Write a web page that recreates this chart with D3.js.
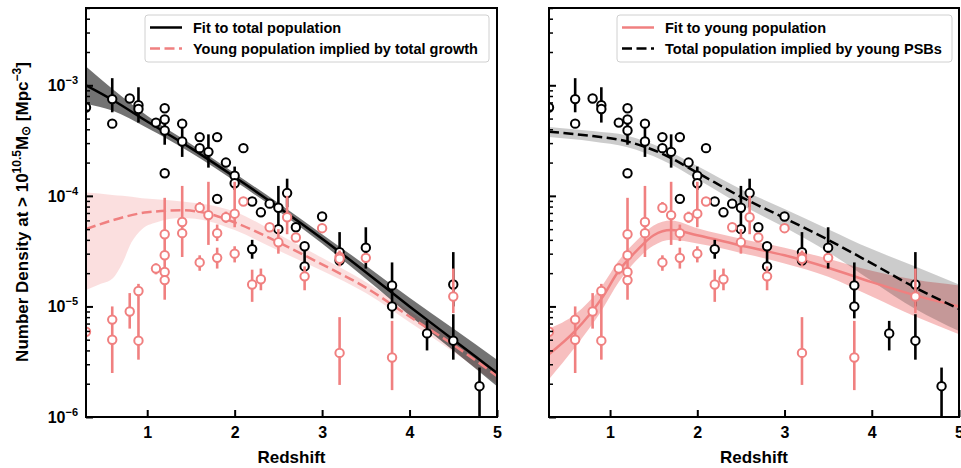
<!DOCTYPE html>
<html>
<head>
<meta charset="utf-8">
<script src="https://cdn.jsdelivr.net/npm/d3@7"></script>
<style>
body { margin: 0; background: #fff; }
text { font-family: "Liberation Sans", Arial, sans-serif; font-weight: bold; fill: #000; }
</style>
</head>
<body>
<svg id="chart"></svg>
<script>
// total population (black points)
const totZ  = [0.3, 0.6, 0.6, 0.8, 0.9, 0.9, 1.1, 1.2, 1.2, 1.2, 1.2, 1.4, 1.4, 1.6, 1.6, 1.7, 1.8, 1.8, 1.9, 2.0, 2.0, 2.1, 2.2, 2.2, 2.3, 2.4, 2.5, 2.5, 2.6, 2.7, 2.8, 2.8, 3.0, 3.2, 3.2, 3.5, 3.8, 3.8, 4.2, 4.5, 4.5, 4.8];
const totN  = [6.3e-4, 7.5e-4, 4.5e-4, 7.6e-4, 6.6e-4, 6.1e-4, 4.6e-4, 6.2e-4, 4.9e-4, 3.9e-4, 1.6e-4, 4.5e-4, 3.1e-4, 3.4e-4, 2.7e-4, 2.5e-4, 3.4e-4, 9.4e-5, 2.0e-4, 1.52e-4, 1.3e-4, 2.7e-4, 8.9e-5, 3.3e-5, 7.1e-5, 8.5e-5, 7.8e-5, 5.0e-5, 1.06e-4, 5.2e-5, 3.5e-5, 2.3e-5, 6.5e-5, 3.1e-5, 2.6e-5, 3.4e-5, 1.55e-5, 1.0e-5, 5.7e-6, 1.58e-5, 4.9e-6, 1.9e-6];
const totLo = [null, 5.7e-4, null, null, 4.6e-4, null, null, null, null, 2.9e-4, null, null, 2.25e-4, null, null, 1.8e-4, null, null, null, 1.13e-4, null, null, null, 2.7e-5, null, null, 5.0e-5, null, 7.9e-5, null, 2.3e-5, null, null, 2.6e-5, null, 2.2e-5, 1.0e-5, 7.8e-6, 4.0e-6, 1.0e-5, 3.3e-6, 8e-7];
const totHi = [null, 1.16e-3, null, null, 9.6e-4, null, null, null, null, 4.9e-4, null, null, 4.5e-4, null, null, 3.6e-4, null, null, null, 1.84e-4, null, null, null, 4.0e-5, null, null, 1.23e-4, null, 1.43e-4, null, 3.5e-5, null, null, 4.7e-5, null, 5.2e-5, 2.5e-5, 1.0e-5, 7.4e-6, 3.1e-5, 8.5e-6, 2.8e-6];

// young population (red points)
const yngZ  = [0.3, 0.6, 0.6, 0.8, 0.9, 0.9, 1.1, 1.2, 1.2, 1.2, 1.2, 1.4, 1.4, 1.6, 1.6, 1.7, 1.8, 1.8, 1.9, 2.0, 2.0, 2.1, 2.2, 2.3, 2.4, 2.5, 2.6, 2.7, 2.8, 3.0, 3.2, 3.2, 3.2, 3.5, 3.8, 4.5];
const yngN  = [5.9e-6, 7.6e-6, 5.0e-6, 9.0e-6, 1.38e-5, 4.9e-6, 2.2e-5, 4.5e-5, 2.9e-5, 2.05e-5, 1.73e-5, 5.8e-5, 4.6e-5, 7.8e-5, 2.5e-5, 6.7e-5, 4.6e-5, 2.75e-5, 6.4e-5, 6.9e-5, 3.0e-5, 8.9e-5, 1.58e-5, 1.76e-5, 5.2e-5, 3.8e-5, 6.4e-5, 4.2e-5, 1.87e-5, 5.1e-5, 2.8e-5, 2.7e-5, 3.8e-6, 2.75e-5, 3.45e-6, 1.23e-5];
const yngLo = [null, null, 2.5e-6, 6.3e-6, null, 3.3e-6, 1.95e-5, 1.15e-5, null, null, null, 2.8e-5, null, 7.0e-5, 2.1e-5, 3.6e-5, 3.9e-5, 2.2e-5, 5.7e-5, 5.2e-5, 2.5e-5, null, 1.1e-5, 1.4e-5, null, 3.0e-5, 4.5e-5, null, 1.4e-5, null, 2.3e-5, null, 1.95e-6, null, 1.75e-6, 8.7e-6];
const yngHi = [null, null, 1.0e-5, 1.32e-5, null, 1.6e-5, 2.45e-5, 9.6e-5, null, null, null, 1.23e-4, null, 8.8e-5, 2.9e-5, 1.34e-4, 5.5e-5, 3.4e-5, 7.2e-5, 1.34e-4, 3.5e-5, null, 2.15e-5, 2.2e-5, null, 5.0e-5, 1.0e-4, null, 2.3e-5, null, 3.2e-5, null, 8.0e-6, null, 7.4e-6, 2.2e-5];

// left panel: fit to total population and its band
const fitTotZ  = [0.3, 0.6, 1.0, 1.5, 2.0, 2.5, 3.0, 3.5, 4.0, 4.5, 5.0];
const fitTotN  = [1.0e-3, 7.4e-4, 4.7e-4, 2.7e-4, 1.48e-4, 7.9e-5, 4.1e-5, 2.04e-5, 1.0e-5, 5.0e-6, 2.5e-6];
const fitTotHi = [1.48e-3, 9.3e-4, 5.3e-4, 2.95e-4, 1.6e-4, 8.6e-5, 4.5e-5, 2.35e-5, 1.2e-5, 6.3e-6, 3.3e-6];
const fitTotLo = [6.8e-4, 5.9e-4, 4.1e-4, 2.45e-4, 1.36e-4, 7.3e-5, 3.7e-5, 1.78e-5, 8.3e-6, 4.0e-6, 1.9e-6];

// left panel: young population implied by total growth
const impYngZ = [0.3, 0.6, 1.0, 1.4, 1.7, 2.0, 2.5, 3.0, 3.5, 4.0, 4.5, 5.0];
const impYngN = [5.0e-5, 6.0e-5, 7.1e-5, 7.4e-5, 6.9e-5, 5.75e-5, 3.8e-5, 2.4e-5, 1.48e-5, 8.1e-6, 4.5e-6, 2.35e-6];
const impYngBandZ  = [0.3, 0.45, 0.6, 0.72, 0.82, 0.94, 1.1, 1.4, 1.7, 2.0, 2.5, 3.0, 3.5, 4.0, 4.5, 5.0];
const impYngBandHi = [1.07e-4, 1.05e-4, 1.02e-4, 1.0e-4, 9.8e-5, 9.5e-5, 9.3e-5, 8.9e-5, 8.3e-5, 7.2e-5, 4.5e-5, 2.75e-5, 1.66e-5, 9.1e-6, 5.0e-6, 2.6e-6];
const impYngBandLo = [1.41e-5, 1.58e-5, 1.78e-5, 2.5e-5, 3.8e-5, 5.0e-5, 5.75e-5, 6.3e-5, 5.9e-5, 4.9e-5, 3.2e-5, 2.1e-5, 1.32e-5, 7.2e-6, 3.9e-6, 2.0e-6];

// right panel: fit to young population and its band
const fitYngZ  = [0.3, 0.6, 0.9, 1.1, 1.3, 1.5, 1.7, 2.0, 2.5, 3.0, 3.5, 4.0, 4.5, 5.0];
const fitYngN  = [3.7e-6, 6.0e-6, 1.17e-5, 2.1e-5, 3.16e-5, 4.4e-5, 4.9e-5, 4.4e-5, 3.55e-5, 2.9e-5, 2.24e-5, 1.66e-5, 1.26e-5, 1.0e-5];
const fitYngHi = [6.3e-6, 8.5e-6, 1.5e-5, 2.6e-5, 3.9e-5, 5.4e-5, 6.0e-5, 5.1e-5, 4.1e-5, 3.4e-5, 2.7e-5, 2.1e-5, 1.74e-5, 1.55e-5];
const fitYngLo = [2.2e-6, 4.3e-6, 9.1e-6, 1.66e-5, 2.6e-5, 3.55e-5, 4.0e-5, 3.7e-5, 3.05e-5, 2.45e-5, 1.86e-5, 1.23e-5, 8.1e-6, 5.6e-6];

// right panel: total population implied by young PSBs
const impTotZ  = [0.3, 0.8, 1.2, 1.6, 2.0, 2.5, 3.0, 3.5, 4.0, 4.5, 5.0];
const impTotN  = [3.8e-4, 3.47e-4, 3.1e-4, 2.4e-4, 1.62e-4, 9.8e-5, 6.3e-5, 4.0e-5, 2.45e-5, 1.48e-5, 9.5e-6];
const impTotHi = [4.2e-4, 3.85e-4, 3.5e-4, 2.7e-4, 1.86e-4, 1.15e-4, 7.6e-5, 5.0e-5, 3.3e-5, 2.3e-5, 1.58e-5];
const impTotLo = [3.4e-4, 3.1e-4, 2.75e-4, 2.1e-4, 1.41e-4, 8.3e-5, 5.2e-5, 3.1e-5, 1.7e-5, 9.5e-6, 6.0e-6];

const xTicks = [1, 2, 3, 4, 5];
const yTicks = [1e-6, 1e-5, 1e-4, 1e-3];

const RED = "#f08080";
const width = 961, height = 468;
const plotTop = 8, plotBottom = 417;

const svg = d3.select("#chart").attr("width", width).attr("height", height);

const y = d3.scaleLog().domain([1e-6, 5e-3]).range([plotBottom, plotTop]);

const zip = (zs, ns) => zs.map((z, i) => ({z: z, n: ns[i]}));
const zipBand = (zs, lo, hi) => zs.map((z, i) => ({z: z, lo: lo[i], hi: hi[i]}));

function drawPanel(id, x0, x1, showYLabels, layers, legendItems, legendBox) {
    const x = d3.scaleLinear().domain([0.3, 5]).range([x0, x1]);
    const g = svg.append("g");

    g.append("clipPath").attr("id", "clip" + id)
        .append("rect").attr("x", x0).attr("y", plotTop).attr("width", x1 - x0).attr("height", plotBottom - plotTop);
    const plot = g.append("g").attr("clip-path", "url(#clip" + id + ")");

    const area = d3.area().x(d => x(d.z)).y0(d => y(d.lo)).y1(d => y(d.hi)).curve(d3.curveMonotoneX);
    const line = d3.line().x(d => x(d.z)).y(d => y(d.n)).curve(d3.curveMonotoneX);

    layers.forEach(function(L) {
        if (L.type == "band") {
            plot.append("path").datum(L.data).attr("d", area)
                .attr("fill", L.color).attr("fill-opacity", L.opacity);
        } else {
            plot.append("path").datum(L.data).attr("d", line)
                .attr("fill", "none").attr("stroke", L.color).attr("stroke-width", 2.5)
                .attr("stroke-dasharray", L.dash || null);
        }
    });

    // points: black then red
    const series = [
        {z: totZ, n: totN, lo: totLo, hi: totHi, color: "#000"},
        {z: yngZ, n: yngN, lo: yngLo, hi: yngHi, color: RED}
    ];
    series.forEach(function(s) {
        const pts = s.z.map((z, i) => ({z: z, n: s.n[i], lo: s.lo[i], hi: s.hi[i]}));
        plot.append("g").selectAll("line")
            .data(pts.filter(d => d.lo != null))
            .enter().append("line")
            .attr("x1", d => x(d.z)).attr("x2", d => x(d.z))
            .attr("y1", d => y(d.lo)).attr("y2", d => y(d.hi))
            .attr("stroke", s.color).attr("stroke-width", 2.6);
        plot.append("g").selectAll("circle")
            .data(pts)
            .enter().append("circle")
            .attr("cx", d => x(d.z)).attr("cy", d => y(d.n)).attr("r", 4.2)
            .attr("fill", "#fff").attr("stroke", s.color).attr("stroke-width", 2);
    });

    // axes (ticks inward)
    const xAxis = g.append("g").attr("transform", "translate(0," + plotBottom + ")")
        .call(d3.axisBottom(x).tickValues(xTicks).tickSize(-7).tickSizeOuter(0).tickPadding(10).tickFormat(d3.format("d")));
    xAxis.select(".domain").remove();
    xAxis.selectAll(".tick line").attr("stroke-width", 2);
    xAxis.selectAll("text").attr("font-size", 16).attr("font-family", null);

    const minor = [];
    for (let e = -6; e <= -3; e++) for (let m = 2; m <= 9; m++) {
        const v = m * Math.pow(10, e);
        if (v <= 5e-3) minor.push(v);
    }
    const yMinor = g.append("g").attr("transform", "translate(" + x0 + ",0)")
        .call(d3.axisLeft(y).tickValues(minor).tickSize(-4).tickFormat(""));
    yMinor.select(".domain").remove();
    yMinor.selectAll(".tick line").attr("stroke-width", 1.5);

    const yAxis = g.append("g").attr("transform", "translate(" + x0 + ",0)")
        .call(d3.axisLeft(y).tickValues(yTicks).tickSize(-7).tickFormat(""));
    yAxis.select(".domain").remove();
    yAxis.selectAll(".tick line").attr("stroke-width", 2);

    if (showYLabels) {
        yTicks.forEach(function(v) {
            const t = g.append("text").attr("x", x0 - 8).attr("y", y(v) + 6)
                .attr("text-anchor", "end").attr("font-size", 16);
            t.append("tspan").text("10");
            t.append("tspan").attr("dy", -7).attr("font-size", 11).text("\u2212" + Math.round(-Math.log10(v)));
        });
    }

    g.append("rect").attr("x", x0).attr("y", plotTop).attr("width", x1 - x0).attr("height", plotBottom - plotTop)
        .attr("fill", "none").attr("stroke", "#000").attr("stroke-width", 2);

    g.append("text").attr("x", (x0 + x1) / 2).attr("y", 463)
        .attr("text-anchor", "middle").attr("font-size", 17).text("Redshift");

    // legend
    g.append("rect").attr("x", legendBox[0]).attr("y", 15).attr("width", legendBox[1] - legendBox[0]).attr("height", 47)
        .attr("rx", 3).attr("fill", "#fff").attr("fill-opacity", 0.85).attr("stroke", "#d0d0d0").attr("stroke-width", 1);
    legendItems.forEach(function(it, i) {
        const ly = 27.5 + i * 21;
        g.append("line").attr("x1", legendBox[0] + 5).attr("x2", legendBox[0] + 37).attr("y1", ly).attr("y2", ly)
            .attr("stroke", it.color).attr("stroke-width", 2.5).attr("stroke-dasharray", it.dash || null);
        g.append("text").attr("x", legendBox[0] + 48).attr("y", ly + 5).attr("font-size", 14.5).text(it.label);
    });
}

drawPanel("L", 86, 497, true, [
    {type: "band", data: zipBand(impYngBandZ, impYngBandLo, impYngBandHi), color: RED, opacity: 0.25},
    {type: "band", data: zipBand(fitTotZ, fitTotLo, fitTotHi), color: "#000", opacity: 0.55},
    {type: "line", data: zip(impYngZ, impYngN), color: RED, dash: "10,4.5"},
    {type: "line", data: zip(fitTotZ, fitTotN), color: "#000"}
], [
    {label: "Fit to total population", color: "#000"},
    {label: "Young population implied by total growth", color: RED, dash: "10,4.5"}
], [145, 489]);

drawPanel("R", 549, 959, false, [
    {type: "band", data: zipBand(fitYngZ, fitYngLo, fitYngHi), color: RED, opacity: 0.5},
    {type: "band", data: zipBand(impTotZ, impTotLo, impTotHi), color: "#000", opacity: 0.2},
    {type: "line", data: zip(fitYngZ, fitYngN), color: RED},
    {type: "line", data: zip(impTotZ, impTotN), color: "#000", dash: "10,4.5"}
], [
    {label: "Fit to young population", color: RED},
    {label: "Total population implied by young PSBs", color: "#000", dash: "10,4.5"}
], [617, 952]);

// shared y label
const yl = svg.append("text").attr("transform", "translate(28,212) rotate(-90)")
    .attr("text-anchor", "middle").attr("font-size", 17);
yl.append("tspan").text("Number Density at > 10");
yl.append("tspan").attr("dy", -7).attr("font-size", 12).text("10.5");
yl.append("tspan").attr("dy", 7).text("M");
yl.append("tspan").attr("dy", 2).attr("font-size", 12).text("\u2299");
yl.append("tspan").attr("dy", -2).text(" [Mpc");
yl.append("tspan").attr("dy", -7).attr("font-size", 12).text("\u22123");
yl.append("tspan").attr("dy", 7).text("]");
</script>
</body>
</html>
